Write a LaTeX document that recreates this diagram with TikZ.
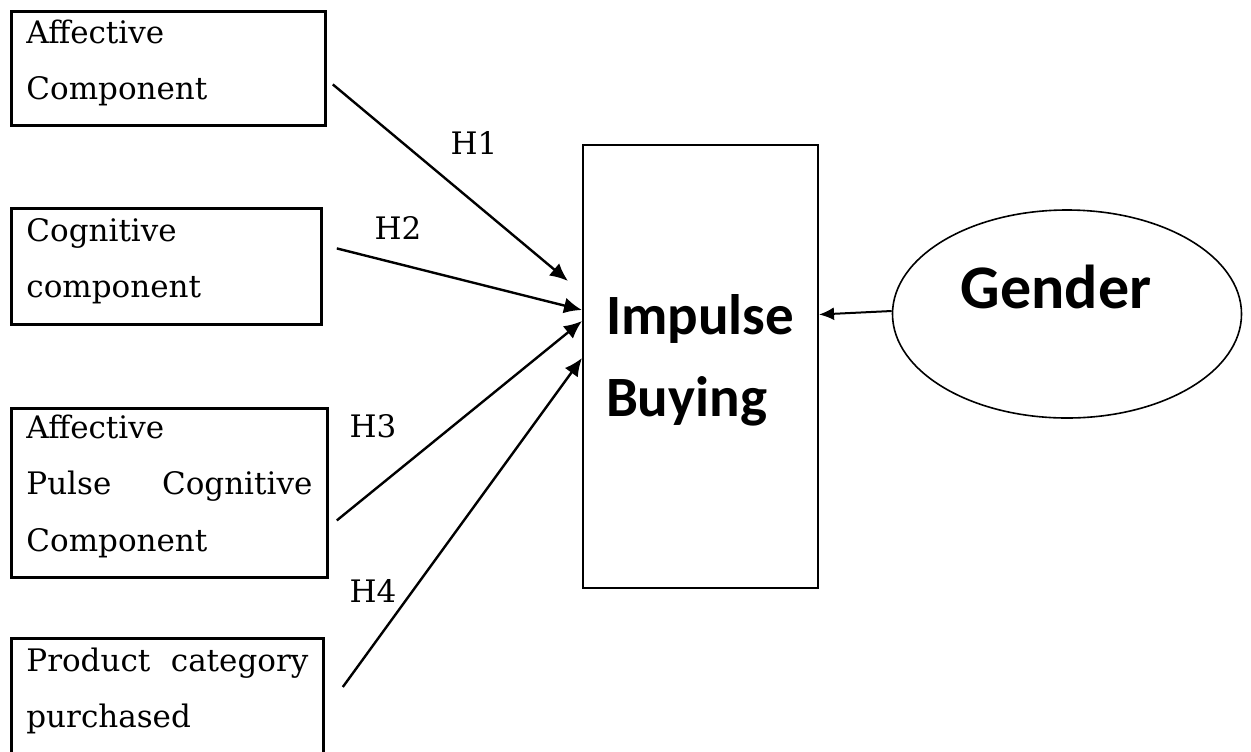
\documentclass[tikz,border=0pt]{standalone}
\usepackage{fontspec}
\setmainfont{DejaVu Serif}
\newfontfamily\calibri{Carlito}
\usetikzlibrary{arrows.meta,shapes.geometric}
\begin{document}
\begin{tikzpicture}[x=0.5pt,y=-0.5pt,
  bloc/.style={draw,line width=1.4pt,anchor=north west,inner xsep=7.5pt,inner ysep=0pt,
    align=left,font=\fontsize{15.5}{28.25}\selectfont},
  fleche/.style={-{Latex[length=9pt,width=8pt]},line width=1.2pt},
  hyp/.style={font=\fontsize{15.5}{18}\selectfont}]
% Limites de l'image
\def\xmax{1251}
\def\ymax{751}
\useasboundingbox (0,0) rectangle (\xmax,\ymax);
\clip (0,0) rectangle (\xmax,\ymax);

% Blocs de gauche
\node[bloc,text width=142pt,text height=16pt,text depth=41pt] (aff) at (10,10)
  {Affective\\ Component};
\node[bloc,text width=140pt,text height=16.5pt,text depth=41.5pt] (cog) at (10,207)
  {Cognitive\\ component};
\node[bloc,text width=143pt,text height=15pt,text depth=69.5pt] (pulse) at (10,407)
  {Affective\\ \makebox[\linewidth]{Pulse\hfill Cognitive}\\ Component};
\node[bloc,text width=141pt,text height=16.5pt,text depth=50pt] (prod) at (10,637)
  {\makebox[\linewidth]{Product\hfill category}\\ purchased};

% Bloc central
\node[draw,line width=1pt,anchor=north west,inner xsep=11.5pt,inner ysep=0pt,
  text width=94.5pt,text height=94.5pt,text depth=127pt,align=left,
  font=\calibri\bfseries\fontsize{28.5}{41}\selectfont] (imp) at (582,144) {Impulse\\ Buying};

% Ellipse
\node[draw,ellipse,line width=0.8pt,minimum width=174.5pt,minimum height=104pt,inner sep=0pt,
  text height=20pt,text depth=26pt,font=\calibri\bfseries\fontsize{31}{37}\selectfont]
  (gen) at (1067,314) {Gender\hspace*{11pt}};

% Hypotheses
\node[hyp] (h1) at (474,143) {H1};
\node[hyp] (h2) at (398,228) {H2};
\node[hyp] (h3) at (373,426) {H3};
\node[hyp] (h4) at (373,591) {H4};

% Fleches
\draw[fleche] ([xshift=3pt,yshift=-8pt]aff.east) -- ([xshift=-7pt,yshift=-68.5pt]imp.north west);
\draw[fleche] ([xshift=7pt,yshift=9pt]cog.east) -- ([yshift=-83pt]imp.north west);
\draw[fleche] ([xshift=4pt,yshift=-13.75pt]pulse.east) -- ([yshift=-88.5pt]imp.north west);
\draw[fleche] ([xshift=9pt,yshift=-25pt]prod.north east) -- ([yshift=-107pt]imp.north west);
\draw[-{Latex[length=7.5pt,width=6.5pt]},line width=1pt] ([yshift=1.5pt]gen.west) -- ([yshift=26pt]imp.east);

\end{tikzpicture}
\end{document}
